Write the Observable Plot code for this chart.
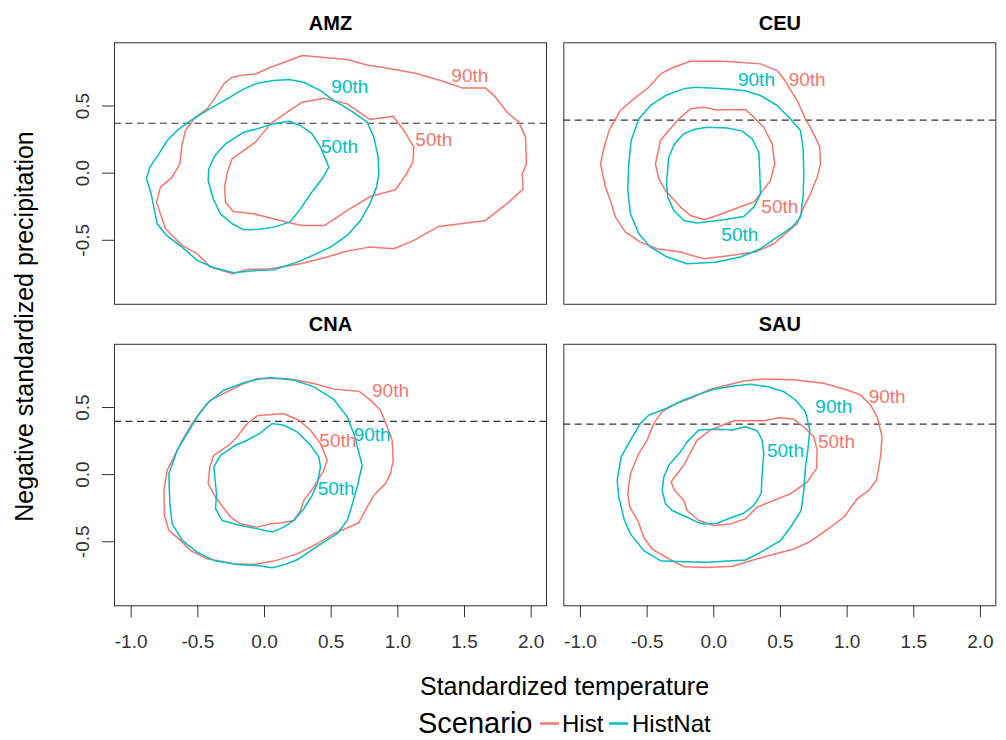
<!DOCTYPE html>
<html>
<head>
<meta charset="utf-8">
<script src="https://cdn.jsdelivr.net/npm/d3@7"></script>
<script src="https://cdn.jsdelivr.net/npm/@observablehq/plot@0.6"></script>
<style>
  html, body { margin: 0; padding: 0; background: #fff; }
  #chart { width: 1006px; }
  svg { display: block; }
</style>
</head>
<body>
<div id="chart"></div>
<script>
// ---- categories ----
const regions = ["AMZ", "CEU", "CNA", "SAU"];
const regionCol = [0, 1, 0, 1];
const regionRow = [0, 0, 1, 1];
const scenarios = ["Hist", "HistNat"];
const levels = ["50th", "90th"];
const thresholds = [0.372, 0.395, 0.397, 0.376];
const xTicks = [-1.0, -0.5, 0.0, 0.5, 1.0, 1.5, 2.0];
const yTicks = [-0.5, 0.0, 0.5];

// ---- contour outlines [temperature, -precipitation] ----
const amzHist90 = [[-0.81,-0.216],[-0.78,-0.104],[-0.6925,-0.030],[-0.635,0.069],[-0.6175,0.218],[-0.5925,0.318],[-0.5175,0.417],[-0.43,0.479],[-0.3675,0.566],[-0.305,0.665],[-0.2425,0.715],[-0.155,0.732],[-0.0675,0.739],[0.045,0.789],[0.17,0.834],[0.2825,0.876],[0.62,0.846],[0.77,0.806],[0.945,0.777],[1.1325,0.744],[1.32,0.690],[1.4825,0.635],[1.6575,0.635],[1.7325,0.566],[1.82,0.454],[1.9075,0.380],[1.9575,0.268],[1.965,0.069],[1.9325,-0.005],[1.94,-0.117],[1.8325,-0.216],[1.6575,-0.352],[1.47,-0.377],[1.3075,-0.397],[1.12,-0.501],[0.97,-0.563],[0.7825,-0.551],[0.6075,-0.583],[0.47,-0.625],[0.27,-0.675],[0.045,-0.712],[-0.13,-0.717],[-0.2375,-0.749],[-0.405,-0.700],[-0.505,-0.600],[-0.6175,-0.538],[-0.7425,-0.414]];
const amzHist50 = [[-0.2425,0.107],[-0.155,0.169],[-0.0675,0.231],[0.045,0.367],[0.17,0.454],[0.2825,0.529],[0.445,0.558],[0.62,0.516],[0.79,0.400],[0.965,0.424],[1.045,0.318],[1.12,0.194],[1.1125,0.082],[1.0575,-0.017],[0.9825,-0.124],[0.795,-0.174],[0.62,-0.278],[0.45,-0.390],[0.2825,-0.390],[0.17,-0.365],[0.02,-0.328],[-0.08,-0.303],[-0.235,-0.285],[-0.2925,-0.216],[-0.30,-0.104],[-0.275,0.020]];
const amzNat90 = [[-0.885,-0.042],[-0.86,0.045],[-0.7925,0.144],[-0.73,0.243],[-0.655,0.318],[-0.555,0.392],[-0.43,0.467],[-0.28,0.553],[-0.155,0.628],[-0.055,0.670],[0.07,0.690],[0.1825,0.697],[0.295,0.677],[0.42,0.615],[0.52,0.541],[0.645,0.467],[0.77,0.380],[0.82,0.268],[0.8525,0.119],[0.8575,-0.005],[0.84,-0.104],[0.79,-0.228],[0.72,-0.352],[0.62,-0.464],[0.495,-0.551],[0.345,-0.620],[0.245,-0.663],[0.07,-0.720],[-0.055,-0.725],[-0.23,-0.742],[-0.38,-0.705],[-0.505,-0.650],[-0.6175,-0.551],[-0.735,-0.464],[-0.805,-0.377],[-0.83,-0.253],[-0.85,-0.154]];
const amzNat50 = [[0.1825,0.387],[0.27,0.355],[0.3575,0.293],[0.42,0.194],[0.4825,0.045],[0.4325,-0.042],[0.345,-0.154],[0.27,-0.266],[0.19,-0.365],[0.07,-0.402],[-0.055,-0.419],[-0.155,-0.422],[-0.2425,-0.377],[-0.33,-0.303],[-0.385,-0.191],[-0.4225,-0.055],[-0.4175,0.032],[-0.3725,0.132],[-0.2925,0.218],[-0.155,0.305],[-0.055,0.330],[0.045,0.362]];

const ceuHist90 = [[-0.175,0.834],[0.075,0.834],[0.35,0.814],[0.475,0.764],[0.525,0.702],[0.5625,0.640],[0.625,0.541],[0.6875,0.404],[0.75,0.293],[0.795,0.194],[0.80,0.069],[0.775,-0.030],[0.725,-0.154],[0.675,-0.253],[0.625,-0.377],[0.55,-0.439],[0.45,-0.526],[0.3125,-0.588],[0.125,-0.613],[-0.075,-0.638],[-0.25,-0.588],[-0.425,-0.563],[-0.55,-0.514],[-0.6625,-0.439],[-0.7375,-0.328],[-0.775,-0.203],[-0.8125,-0.104],[-0.85,0.069],[-0.82,0.206],[-0.78,0.330],[-0.70,0.467],[-0.60,0.553],[-0.4875,0.640],[-0.40,0.739],[-0.30,0.789]];
const ceuHist50 = [[-0.175,0.479],[-0.075,0.491],[0.025,0.471],[0.2375,0.474],[0.30,0.417],[0.375,0.342],[0.4375,0.218],[0.4575,0.069],[0.425,-0.055],[0.35,-0.154],[0.30,-0.216],[0.225,-0.241],[0.125,-0.278],[0.025,-0.315],[-0.07,-0.347],[-0.175,-0.315],[-0.25,-0.253],[-0.3625,-0.129],[-0.4125,-0.042],[-0.4375,0.069],[-0.40,0.243],[-0.3375,0.318],[-0.2625,0.404]];
const ceuNat90 = [[-0.1375,0.640],[0.075,0.628],[0.225,0.615],[0.35,0.578],[0.475,0.504],[0.575,0.404],[0.65,0.318],[0.67,0.181],[0.675,-0.005],[0.67,-0.179],[0.65,-0.328],[0.5875,-0.402],[0.475,-0.476],[0.35,-0.563],[0.20,-0.625],[0.0125,-0.663],[-0.20,-0.675],[-0.35,-0.625],[-0.475,-0.551],[-0.5625,-0.452],[-0.625,-0.303],[-0.645,-0.129],[-0.6375,0.069],[-0.62,0.243],[-0.5625,0.404],[-0.475,0.504],[-0.3625,0.578],[-0.225,0.628]];
const ceuNat50 = [[-0.05,0.342],[0.10,0.337],[0.2125,0.313],[0.2875,0.256],[0.3375,0.156],[0.345,-0.005],[0.35,-0.154],[0.30,-0.253],[0.225,-0.323],[0.075,-0.347],[-0.125,-0.372],[-0.225,-0.352],[-0.30,-0.278],[-0.345,-0.179],[-0.355,-0.079],[-0.3375,0.119],[-0.295,0.218],[-0.225,0.293],[-0.15,0.325]];

const cnaHist90 = [[-0.055,0.716],[0.17,0.716],[0.37,0.679],[0.52,0.637],[0.7075,0.622],[0.795,0.555],[0.87,0.480],[0.92,0.356],[0.9575,0.256],[0.965,0.107],[0.945,0.007],[0.9075,-0.067],[0.82,-0.154],[0.77,-0.241],[0.7075,-0.358],[0.52,-0.440],[0.395,-0.515],[0.245,-0.590],[0.07,-0.644],[-0.08,-0.669],[-0.23,-0.664],[-0.43,-0.627],[-0.555,-0.565],[-0.63,-0.490],[-0.7175,-0.415],[-0.75,-0.303],[-0.755,-0.117],[-0.73,0.032],[-0.6675,0.157],[-0.6175,0.256],[-0.5425,0.381],[-0.48,0.468],[-0.405,0.555],[-0.28,0.617],[-0.18,0.667]];
const cnaHist50 = [[-0.055,0.438],[0.14,0.455],[0.2575,0.405],[0.345,0.331],[0.42,0.231],[0.47,0.107],[0.445,0.032],[0.37,-0.092],[0.295,-0.192],[0.27,-0.266],[0.22,-0.341],[0.12,-0.361],[0.045,-0.366],[-0.055,-0.391],[-0.18,-0.366],[-0.255,-0.316],[-0.3675,-0.167],[-0.4225,-0.067],[-0.41,0.057],[-0.38,0.144],[-0.2675,0.219],[-0.205,0.281],[-0.13,0.381]];
const cnaNat90 = [[0.045,0.724],[0.22,0.704],[0.37,0.654],[0.52,0.560],[0.62,0.430],[0.67,0.306],[0.7325,0.070],[0.695,-0.092],[0.645,-0.266],[0.62,-0.341],[0.545,-0.440],[0.395,-0.535],[0.245,-0.634],[0.145,-0.672],[0.0575,-0.694],[-0.055,-0.677],[-0.205,-0.669],[-0.38,-0.639],[-0.505,-0.577],[-0.6175,-0.490],[-0.6925,-0.366],[-0.71,-0.216],[-0.7175,0.007],[-0.655,0.182],[-0.58,0.306],[-0.505,0.430],[-0.43,0.530],[-0.305,0.629],[-0.155,0.684],[-0.055,0.709]];
const cnaNat50 = [[0.0575,0.381],[0.145,0.368],[0.245,0.318],[0.345,0.219],[0.4075,0.132],[0.42,0.057],[0.395,-0.067],[0.3575,-0.154],[0.295,-0.254],[0.22,-0.341],[0.145,-0.391],[0.0575,-0.428],[-0.055,-0.403],[-0.205,-0.373],[-0.3175,-0.341],[-0.3675,-0.254],[-0.36,-0.142],[-0.38,0.057],[-0.33,0.144],[-0.2175,0.219],[-0.13,0.256],[-0.03,0.311]];

const sauHist90 = [[0.375,0.713],[0.60,0.706],[0.825,0.681],[1.00,0.631],[1.10,0.594],[1.175,0.519],[1.225,0.431],[1.2625,0.282],[1.25,0.132],[1.22,-0.042],[1.1625,-0.117],[1.075,-0.180],[0.975,-0.317],[0.875,-0.392],[0.7125,-0.504],[0.60,-0.554],[0.4375,-0.596],[0.275,-0.641],[0.1375,-0.683],[-0.05,-0.691],[-0.225,-0.686],[-0.3375,-0.628],[-0.4625,-0.554],[-0.525,-0.466],[-0.57,-0.342],[-0.63,-0.242],[-0.645,-0.142],[-0.625,0.007],[-0.5625,0.157],[-0.50,0.257],[-0.45,0.382],[-0.3875,0.469],[-0.275,0.531],[-0.175,0.569],[-0.025,0.636],[0.225,0.698]];
const sauHist50 = [[0.15,0.401],[0.375,0.401],[0.4875,0.424],[0.60,0.414],[0.6875,0.344],[0.75,0.282],[0.775,0.182],[0.77,0.045],[0.70,-0.055],[0.575,-0.142],[0.45,-0.192],[0.325,-0.242],[0.2375,-0.329],[0.125,-0.367],[0.00,-0.379],[-0.1125,-0.342],[-0.20,-0.267],[-0.225,-0.192],[-0.295,-0.117],[-0.32,-0.055],[-0.275,0.007],[-0.225,0.070],[-0.125,0.257],[-0.025,0.332]];
const sauNat90 = [[0.275,0.673],[0.40,0.656],[0.525,0.618],[0.6125,0.556],[0.6875,0.469],[0.72,0.332],[0.705,0.182],[0.6875,0.057],[0.675,-0.117],[0.655,-0.267],[0.575,-0.392],[0.50,-0.491],[0.35,-0.579],[0.2375,-0.636],[-0.05,-0.653],[-0.225,-0.648],[-0.40,-0.641],[-0.525,-0.566],[-0.625,-0.441],[-0.67,-0.342],[-0.7125,-0.167],[-0.725,-0.042],[-0.695,0.132],[-0.625,0.257],[-0.55,0.382],[-0.4875,0.444],[-0.3875,0.481],[-0.225,0.556],[-0.125,0.594],[0.00,0.636],[0.15,0.661]];
const sauNat50 = [[-0.1125,0.332],[0.025,0.339],[0.1375,0.332],[0.2375,0.357],[0.325,0.327],[0.3625,0.257],[0.375,0.157],[0.3625,0.007],[0.355,-0.142],[0.30,-0.229],[0.225,-0.287],[0.1375,-0.317],[0.025,-0.362],[-0.075,-0.367],[-0.125,-0.354],[-0.20,-0.317],[-0.3125,-0.267],[-0.3625,-0.217],[-0.3875,-0.117],[-0.375,-0.017],[-0.3375,0.070],[-0.25,0.170],[-0.20,0.244]];

// ---- contour labels ----
const labelRegion   = ["AMZ","AMZ","AMZ","AMZ","CEU","CEU","CEU","CEU","CNA","CNA","CNA","CNA","SAU","SAU","SAU","SAU"];
const labelScenario = ["HistNat","Hist","HistNat","Hist","HistNat","Hist","Hist","HistNat","Hist","Hist","HistNat","HistNat","Hist","HistNat","Hist","HistNat"];
const labelLevel    = ["90th","90th","50th","50th","90th","90th","50th","50th","90th","50th","90th","50th","90th","90th","50th","50th"];
const labelX        = [0.64, 1.54, 0.5625, 1.27, 0.32, 0.70, 0.495, 0.195, 0.945, 0.55, 0.8075, 0.5375, 1.30, 0.90, 0.92, 0.5375];
const labelY        = [0.645, 0.727, 0.199, 0.248, 0.695, 0.695, -0.253, -0.457, 0.624, 0.249, 0.294, -0.104, 0.581, 0.501, 0.244, 0.177];

// ---- build tables ----
const contours = [
  ["AMZ","Hist","90th",amzHist90],["AMZ","Hist","50th",amzHist50],["AMZ","HistNat","90th",amzNat90],["AMZ","HistNat","50th",amzNat50],
  ["CEU","Hist","90th",ceuHist90],["CEU","Hist","50th",ceuHist50],["CEU","HistNat","90th",ceuNat90],["CEU","HistNat","50th",ceuNat50],
  ["CNA","Hist","90th",cnaHist90],["CNA","Hist","50th",cnaHist50],["CNA","HistNat","90th",cnaNat90],["CNA","HistNat","50th",cnaNat50],
  ["SAU","Hist","90th",sauHist90],["SAU","Hist","50th",sauHist50],["SAU","HistNat","90th",sauNat90],["SAU","HistNat","50th",sauNat50]
];
const colOf = r => regionCol[regions.indexOf(r)];
const rowOf = r => regionRow[regions.indexOf(r)];

const lineData = contours.flatMap(([region, scenario, level, pts]) =>
  pts.map(([x, y]) => ({region, scenario, level, id: region + scenario + level, x, y, col: colOf(region), row: rowOf(region)})));
const ruleData = regions.map((region, i) => ({region, y: thresholds[i], col: regionCol[i], row: regionRow[i]}));
const titleData = regions.map((region, i) => ({region, col: regionCol[i], row: regionRow[i]}));
const labelData = labelRegion.map((region, i) => ({region, scenario: labelScenario[i], text: labelLevel[i], x: labelX[i], y: labelY[i], col: colOf(region), row: rowOf(region)}));

const font = "'Liberation Sans', Arial, Helvetica, sans-serif";
const W = 1006, H = 705;

const plot = Plot.plot({
  width: W,
  height: H,
  marginLeft: 114,
  marginRight: 10.7,
  marginTop: 42.3,
  marginBottom: H - 605.3,
  style: {fontFamily: font, fontSize: "19px", color: "#333", background: "#fff"},
  fx: {domain: [0, 1], axis: null, paddingInner: 0.0385, paddingOuter: 0, round: false},
  fy: {domain: [0, 1], axis: null, paddingInner: 0.1326, paddingOuter: 0, round: false},
  x: {domain: [-1.125, 2.115], ticks: xTicks, tickFormat: d => d.toFixed(1), tickSize: 12, tickPadding: 17, label: null},
  y: {domain: [-0.977, 0.971], ticks: yTicks, tickFormat: d => d.toFixed(1), tickSize: 12, tickPadding: 14, tickRotate: -90, label: null},
  color: {domain: scenarios, range: ["#F8766D", "#00BFC4"]},
  marks: [
    Plot.frame({stroke: "#333", strokeWidth: 1}),
    Plot.ruleY(ruleData, {y: "y", fx: "col", fy: "row", stroke: "#333", strokeWidth: 1.1, strokeDasharray: "7,4.5"}),
    Plot.line(lineData, {x: "x", y: "y", z: "id", stroke: "scenario", fx: "col", fy: "row", curve: "linear-closed", strokeWidth: 1.5}),
    Plot.text(labelData, {x: "x", y: "y", text: "text", fill: "scenario", fx: "col", fy: "row", fontSize: 19}),
    Plot.text(titleData, {text: "region", fx: "col", fy: "row", frameAnchor: "top", dy: -13, lineAnchor: "bottom", fontSize: 20, fontWeight: "bold", fill: "#000"})
  ]
});

// axis titles (spanning all panels)
const svg = d3.select(plot);
svg.append("text").attr("x", 564.5).attr("y", 695).attr("text-anchor", "middle")
  .attr("font-family", font).attr("font-size", 25).attr("fill", "#000").text("Standardized temperature");
svg.append("text").attr("transform", "translate(33,326.5) rotate(-90)").attr("text-anchor", "middle")
  .attr("font-family", font).attr("font-size", 25).attr("fill", "#000").text("Negative standardized precipitation");

document.getElementById("chart").appendChild(plot);

// legend below the chart
const colorScale = plot.scale("color");
const leg = d3.select("#chart").append("svg").attr("width", W).attr("height", 35);
leg.append("text").attr("x", 418).attr("y", 28).attr("font-family", font).attr("font-size", 29).attr("fill", "#000").text("Scenario");
const items = [{s: "Hist", x: 540, tx: 562}, {s: "HistNat", x: 609, tx: 632}];
items.forEach(({s, x, tx}) => {
  leg.append("line").attr("x1", x).attr("x2", x + 19).attr("y1", 18.5).attr("y2", 18.5)
    .attr("stroke", colorScale.range[scenarios.indexOf(s)]).attr("stroke-width", 2.5);
  leg.append("text").attr("x", tx).attr("y", 27).attr("font-family", font).attr("font-size", 24).attr("fill", "#000").text(s);
});
</script>
</body>
</html>
